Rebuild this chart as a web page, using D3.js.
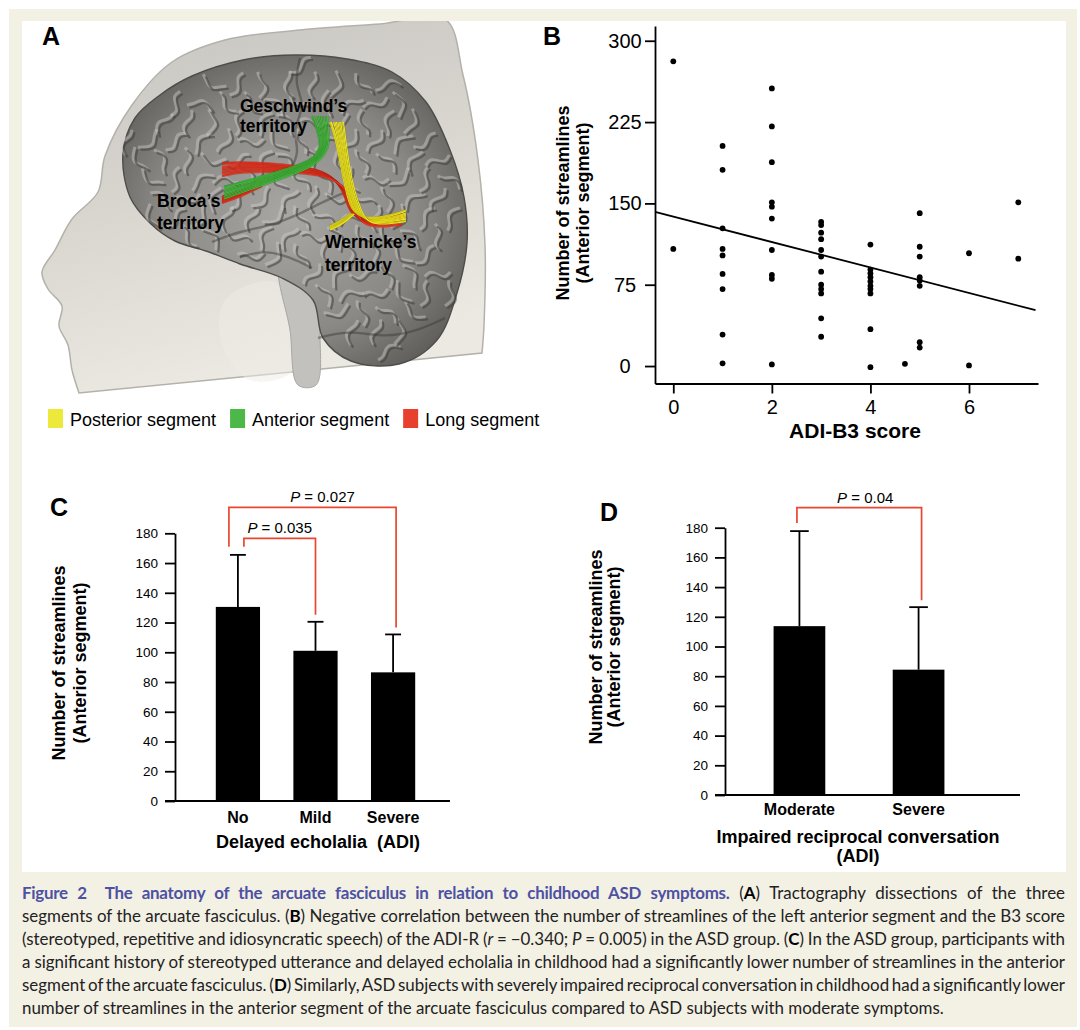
<!DOCTYPE html>
<html>
<head>
<meta charset="utf-8">
<script src="https://cdn.jsdelivr.net/npm/d3@7"></script>
<style>
  body { margin: 0; background: #fff; }
  svg text { font-family: "Liberation Sans", Arial, Helvetica, sans-serif; }
  svg text.cap { font-family: Lato, "Open Sans", sans-serif; white-space: pre; }
</style>
</head>
<body>
<div id="chart"></div>
<script>
// ---------- data ----------

// B: ADI-B3 score against streamlines, one dot per subject
var b3Score = [0, 0,
  1, 1, 1, 1, 1, 1, 1, 1, 1,
  2, 2, 2, 2, 2, 2, 2, 2, 2, 2,
  3, 3, 3, 3, 3, 3, 3, 3, 3, 3, 3, 3,
  4, 4, 4, 4, 4, 4, 4, 4, 4, 4,
  4.7,
  5, 5, 5, 5, 5, 5, 5, 5,
  6, 6,
  7, 7];
var b3Streamlines = [281, 108,
  203, 181, 127, 108, 102, 85, 71, 29, 2.5,
  256, 221, 188, 151, 147, 136, 107, 84, 80.5, 1.5,
  133, 130, 123, 117, 107, 101, 87, 75, 71, 67, 44, 27,
  112, 89, 85.5, 82, 78, 74, 71, 67, 34, -1,
  2,
  141, 110, 101, 82, 79, 74, 22, 17,
  104, 0.6,
  151, 99];
var b3FitIntercept = 137.9;
var b3FitSlope = -11.75;
var b3YTicks = [0, 75, 150, 225, 300];
var b3XTicks = [0, 2, 4, 6];

// C: delayed echolalia groups
var echoGroups = ["No", "Mild", "Severe"];
var echoMean = [130.5, 101, 86.5];
var echoErrTop = [165.5, 120.5, 112];
var echoTestPairs = [["No", "Mild"], ["No", "Severe"]];
var echoTestP = ["0.035", "0.027"];

// D: impaired reciprocal conversation groups
var convGroups = ["Moderate", "Severe"];
var convMean = [113.7, 84.4];
var convErrTop = [177.7, 126.5];
var convTestPairs = [["Moderate", "Severe"]];
var convTestP = ["0.04"];

var barTicks = [0, 20, 40, 60, 80, 100, 120, 140, 160, 180];

// A: legend of the three segments
var segNames = ["Posterior segment", "Anterior segment", "Long segment"];


// ---------- page ----------
var svg = d3.select("#chart").append("svg")
  .attr("width", 1080)
  .attr("height", 1030);

svg.append("rect").attr("x", 9).attr("y", 9).attr("width", 1068).attr("height", 1018)
  .attr("fill", "#f3f0e4");
svg.append("rect").attr("x", 22).attr("y", 21).attr("width", 1044).attr("height", 851)
  .attr("fill", "#fff");

var red = "#ea4630";

function panelLetter (txt, x, y) {
  svg.append("text").attr("x", x).attr("y", y)
    .attr("font-size", "25px").attr("font-weight", "bold")
    .text(txt);
}

// two-line rotated y title
function yTitle (cx1, cx2, cy) {
  [["Number of streamlines", cx1], ["(Anterior segment)", cx2]].forEach(function (d) {
    svg.append("text")
      .attr("transform", "translate(" + d[1] + "," + cy + ") rotate(-90)")
      .attr("text-anchor", "middle")
      .attr("dominant-baseline", "central")
      .attr("font-size", "18px").attr("font-weight", "bold")
      .text(d[0]);
  });
}

function styleAxis (g, fontSize) {
  g.selectAll("path, line").attr("stroke", "#000").attr("stroke-width", 1.8);
  g.selectAll("text").attr("fill", "#000").attr("font-size", fontSize)
    .attr("font-family", "Liberation Sans, Arial, sans-serif");
}


// ---------- A: head, brain and tracts (illustration) ----------
var defs = svg.append("defs");
defs.append("clipPath").attr("id", "clipA")
  .append("rect").attr("x", 22).attr("y", 21).attr("width", 520).attr("height", 380);

var headGrad = defs.append("linearGradient").attr("id", "headGrad")
  .attr("x1", 0).attr("y1", 0).attr("x2", 0.3).attr("y2", 1);
headGrad.append("stop").attr("offset", "0%").attr("stop-color", "#c6c4c0");
headGrad.append("stop").attr("offset", "50%").attr("stop-color", "#d8d5cf");
headGrad.append("stop").attr("offset", "100%").attr("stop-color", "#ece9e2");

var brainGrad = defs.append("radialGradient").attr("id", "brainGrad")
  .attr("cx", "48%").attr("cy", "52%").attr("r", "62%");
brainGrad.append("stop").attr("offset", "0%").attr("stop-color", "#a9a7a3");
brainGrad.append("stop").attr("offset", "60%").attr("stop-color", "#8b8985");
brainGrad.append("stop").attr("offset", "100%").attr("stop-color", "#5a5855");

var gA = svg.append("g").attr("clip-path", "url(#clipA)");

var headOutline = [[79, 393], [72, 370], [68, 345], [59, 326], [62, 306], [48, 289], [42, 272],
  [55, 250], [72, 219], [98, 192], [105, 156], [132, 105], [172, 62], [225, 40], [300, 30],
  [380, 24], [445, 19], [463, 75], [478, 160], [485, 245], [484, 325], [482, 353]];
gA.append("path")
  .attr("d", d3.line().curve(d3.curveCatmullRom)(headOutline) + "Z")
  .attr("fill", "url(#headGrad)")
  .attr("stroke", "#b4b1ab").attr("stroke-width", 1.5);

// lighter jaw area
gA.append("path")
  .attr("d", d3.line().curve(d3.curveCatmullRomClosed)([[225, 300], [275, 282], [302, 330],
    [292, 372], [250, 380], [222, 345]]))
  .attr("fill", "#eeebe5").attr("opacity", 0.5);

// brain stem
gA.append("path")
  .attr("d", d3.line().curve(d3.curveCatmullRomClosed)([[280, 268], [312, 288], [320, 340],
    [316, 385], [298, 385], [290, 330]]))
  .attr("fill", "#c3c1bd").attr("stroke", "#a9a7a3");

var brainOutline = [[123, 153], [135, 118], [160, 95], [192, 76], [243, 60], [295, 55],
  [347, 59], [392, 72], [426, 102], [450, 150], [464, 197], [467, 243], [457, 293],
  [437, 340], [399, 364], [351, 361], [323, 338], [313, 300], [282, 278], [240, 264],
  [206, 251], [175, 241], [151, 224], [130, 197]];
gA.append("path")
  .attr("d", d3.line().curve(d3.curveCatmullRomClosed)(brainOutline))
  .attr("fill", "url(#brainGrad)")
  .attr("stroke", "#4f4d4a").attr("stroke-width", 1.4);

// cortical texture: wavy folds laid on a staggered grid inside the outline
var foldLine = d3.line().curve(d3.curveBasis);
var ridges = gA.append("g"), grooves = gA.append("g");
for (var row = 0, gyy = 68; gyy < 362; gyy += 19, row++) {
  for (var gxx = 128 + (row % 2) * 12; gxx < 468; gxx += 25) {
    var ang = Math.sin(gxx * 0.11 + gyy * 0.05) * 1.7 + Math.cos(gyy * 0.09) * 0.8;
    var pts = [-1, -0.5, 0, 0.5, 1].map(function (t) {
      var w = 5 * Math.sin(t * 3.2 + gxx * 0.3);
      return [gxx + t * 13 * Math.cos(ang) - w * Math.sin(ang),
              gyy + t * 13 * Math.sin(ang) + w * Math.cos(ang)];
    });
    if (!d3.polygonContains(brainOutline, pts[0]) || !d3.polygonContains(brainOutline, pts[4])) continue;
    ridges.append("path").attr("d", foldLine(pts.map(function (p) { return [p[0] - 2.5, p[1] - 2.5]; })))
      .attr("fill", "none").attr("stroke", "#cfcdc9").attr("stroke-width", 3).attr("opacity", 0.45);
    grooves.append("path").attr("d", foldLine(pts))
      .attr("fill", "none").attr("stroke", "#403e3b").attr("stroke-width", 2.2).attr("opacity", 0.55);
  }
}

// main fissures
[[[212, 242], [240, 231], [270, 226], [300, 214], [330, 198], [352, 190]],
 [[300, 58], [294, 85], [306, 105], [292, 130], [300, 152], [290, 170]],
 [[318, 338], [350, 330], [385, 338], [420, 330], [445, 318]],
 [[240, 257], [265, 250], [290, 257], [312, 268]]].forEach(function (f) {
  gA.append("path").attr("d", foldLine(f))
    .attr("fill", "none").attr("stroke", "#3a3835").attr("stroke-width", 2.4).attr("opacity", 0.45);
});

// fibre bundles: each point is [x, y, spread in x, spread in y]
var fibreOffsets = [-5, -3.9, -3.1, -2.2, -1.1, -0.4, 0.5, 1.3, 2.4, 3.2, 4.6];
function bundle (pts, color, dark) {
  fibreOffsets.forEach(function (o, k) {
    var fan = 1 + 0.35 * ((k * 7) % 5) / 4;
    var p = pts.map(function (q, j) {
      var e = (j === 0 || j === pts.length - 1) ? fan : 1;
      return [q[0] + o * q[2] * e, q[1] + o * q[3] * e];
    });
    gA.append("path").attr("d", foldLine(p))
      .attr("fill", "none").attr("stroke", dark)
      .attr("stroke-width", 1.9).attr("opacity", 0.35);
    gA.append("path").attr("d", foldLine(p))
      .attr("fill", "none").attr("stroke", color)
      .attr("stroke-width", 1.1).attr("opacity", 0.95);
  });
}
bundle([[222, 170, 0, 1.4], [240, 167, 0, 1.1], [275, 168, 0, 0.9], [305, 170, 0, 0.7],
  [330, 175, 0.4, 0.55], [346, 190, 0.7, 0.3], [352, 207, 0.9, 0], [358, 222, 0.6, 0.6],
  [380, 223, 0, 1], [402, 219, 0, 1.3]], "#ea3520", "#7a1208");
bundle([[222, 200, 0, 0.7], [240, 194, 0, 0.7], [262, 184, 0, 0.5]], "#ea3520", "#7a1208");
bundle([[224, 193, 0, 1.3], [250, 185, 0, 1.05], [290, 172, 0, 0.85], [314, 163, 0.45, 0.6],
  [326, 148, 0.9, 0], [323, 130, 1.2, 0], [320, 116, 1.6, 0]], "#45b93d", "#145a10");
bundle([[337, 122, 1.4, 0], [341, 140, 1.05, 0], [345, 165, 0.9, 0], [350, 190, 0.9, 0],
  [356, 210, 1.05, 0], [366, 222, 0.55, 0.55], [390, 220, 0, 0.9], [406, 216, 0, 1.2]],
  "#f2ea1e", "#7a7408");
bundle([[352, 214, 0.5, 0], [343, 222, 0, 0.5], [330, 228, 0, 0.45]], "#f2ea1e", "#7a7408");

// territory labels
[["Geschwind’s", 240, 112], ["territory", 240, 132],
 ["Broca’s", 157, 207], ["territory", 157, 229],
 ["Wernicke’s", 325, 248], ["territory", 325, 271]].forEach(function (d) {
  svg.append("text").attr("x", d[1]).attr("y", d[2])
    .attr("font-size", "17.5px").attr("font-weight", "bold").text(d[0]);
});

// legend
var segColors = ["#ece93a", "#4cb848", "#e8402e"];
var lx = 48;
segNames.forEach(function (name, i) {
  svg.append("rect").attr("x", lx).attr("y", 409).attr("width", 15).attr("height", 19)
    .attr("fill", segColors[i]);
  var t = svg.append("text").attr("x", lx + 22).attr("y", 426)
    .attr("font-size", "18px").text(name);
  lx = lx + 22 + t.node().getComputedTextLength() + 14;
});

panelLetter("A", 42, 45);


// ---------- B: scatter ----------
var bx = d3.scaleLinear().domain([-0.371, 7.40]).range([655, 1038]);
var by = d3.scaleLinear().domain([-16.1, 313.6]).range([383.5, 26]);

var gBy = svg.append("g").attr("transform", "translate(655,0)")
  .call(d3.axisLeft(by).tickValues(b3YTicks).tickSize(10).tickSizeOuter(0));
styleAxis(gBy, "20px");
gBy.selectAll(".tick text").attr("text-anchor", "middle").attr("x", -30);

var gBx = svg.append("g").attr("transform", "translate(0,383.5)")
  .call(d3.axisBottom(bx).tickValues(b3XTicks).tickSize(10).tickSizeOuter(0).tickPadding(6));
styleAxis(gBx, "20px");

svg.append("g").selectAll("circle")
  .data(b3Score)
  .enter()
  .append("circle")
    .attr("cx", function (d) { return bx(d); })
    .attr("cy", function (d, i) { return by(b3Streamlines[i]); })
    .attr("r", 2.9)
    .attr("fill", "#000");

var fitX = bx.domain()[0], fitX2 = 7.35;
svg.append("line")
  .attr("x1", bx(fitX)).attr("y1", by(b3FitIntercept + b3FitSlope * fitX))
  .attr("x2", bx(fitX2)).attr("y2", by(b3FitIntercept + b3FitSlope * fitX2))
  .attr("stroke", "#000").attr("stroke-width", 1.8);

svg.append("text").attr("x", 855).attr("y", 438).attr("text-anchor", "middle")
  .attr("font-size", "21px").attr("font-weight", "bold").text("ADI-B3 score");
yTitle(563, 583, 203);
panelLetter("B", 543, 45);


// ---------- C and D: bar charts ----------
function barPanel (o) {
  var x = d3.scaleBand().domain(o.groups).range(o.xRange)
    .paddingInner(o.padIn).paddingOuter(0.5);
  var y = d3.scaleLinear().domain([0, 180]).range(o.yRange);

  var gy = svg.append("g").attr("transform", "translate(" + o.axisX + ",0)")
    .call(d3.axisLeft(y).tickValues(barTicks).tickSize(10).tickSizeOuter(0).tickPadding(o.pad));
  styleAxis(gy, "13.5px");

  svg.append("line")
    .attr("x1", o.axisX - 10).attr("x2", o.xEnd)
    .attr("y1", y(0)).attr("y2", y(0))
    .attr("stroke", "#000").attr("stroke-width", 1.8);

  var cap = x.bandwidth() * 0.36;
  o.groups.forEach(function (g, i) {
    var cx = x(g) + x.bandwidth() / 2;
    svg.append("line").attr("x1", cx).attr("x2", cx)
      .attr("y1", y(o.mean[i])).attr("y2", y(o.err[i]))
      .attr("stroke", "#000").attr("stroke-width", 1.8);
    svg.append("line").attr("x1", cx - cap / 2).attr("x2", cx + cap / 2)
      .attr("y1", y(o.err[i])).attr("y2", y(o.err[i]))
      .attr("stroke", "#000").attr("stroke-width", 1.8);
  });

  svg.append("g").selectAll("rect")
    .data(o.groups)
    .enter()
    .append("rect")
      .attr("x", function (d) { return x(d); })
      .attr("y", function (d, i) { return y(o.mean[i]); })
      .attr("width", x.bandwidth())
      .attr("height", function (d, i) { return y(0) - y(o.mean[i]); })
      .attr("fill", "#000");

  svg.append("g").selectAll("text")
    .data(o.groups)
    .enter()
    .append("text")
      .attr("x", function (d) { return x(d) + x.bandwidth() / 2; })
      .attr("y", y(0) + o.catDy)
      .attr("text-anchor", "middle")
      .attr("font-size", "16px").attr("font-weight", "bold")
      .text(function (d) { return d; });

  // significance brackets
  o.pairs.forEach(function (pr, k) {
    var a = o.groups.indexOf(pr[0]), b = o.groups.indexOf(pr[1]);
    var x1 = x(pr[0]) + x.bandwidth() / 2 + o.brk[k][0];
    var x2 = x(pr[1]) + x.bandwidth() / 2 + o.brk[k][1];
    var lev = y(180) + o.brk[k][2];
    svg.append("path")
      .attr("d", "M" + x1 + "," + (y(o.err[a]) - 8) + "V" + lev + "H" + x2 + "V" + (y(o.err[b]) - 7))
      .attr("fill", "none").attr("stroke", red).attr("stroke-width", 1.7);
    var t = svg.append("text").attr("x", (x1 + x2) / 2 + o.brk[k][3]).attr("y", lev - 5)
      .attr("text-anchor", "middle").attr("font-size", "15px");
    t.append("tspan").attr("font-style", "italic").text("P");
    t.append("tspan").text(" = " + o.p[k]);
  });
}

barPanel({
  groups: echoGroups, mean: echoMean, err: echoErrTop, pairs: echoTestPairs, p: echoTestP,
  xRange: [177, 454], padIn: 0.43, yRange: [801, 533.3], axisX: 175, pad: 7, xEnd: 450,
  catDy: 22, brk: [[6, 0, 5, 0], [-9, 3, -26, 10]]
});
svg.append("text").attr("x", 318).attr("y", 848).attr("text-anchor", "middle")
  .attr("font-size", "18px").attr("font-weight", "bold").style("white-space", "pre")
  .text("Delayed echolalia  (ADI)");
yTitle(59, 80, 663);
panelLetter("C", 50, 516);

barPanel({
  groups: convGroups, mean: convMean, err: convErrTop, pairs: convTestPairs, p: convTestP,
  xRange: [714, 1004], padIn: 0.566, yRange: [795, 527.7], axisX: 725, pad: 7, xEnd: 1020,
  catDy: 20, brk: [[-2.5, 3, -20, 6]]
});
svg.append("text").attr("x", 858).attr("y", 843).attr("text-anchor", "middle")
  .attr("font-size", "18px").attr("font-weight", "bold")
  .text("Impaired reciprocal conversation");
svg.append("text").attr("x", 858).attr("y", 862).attr("text-anchor", "middle")
  .attr("font-size", "18px").attr("font-weight", "bold")
  .text("(ADI)");
yTitle(596, 614, 647);
panelLetter("D", 600, 521);


// ---------- caption ----------
// t = title (bold, blue), b = bold, i = italic
var captionLines = [
  [["Figure 2  The anatomy of the arcuate fasciculus in relation to childhood ASD symptoms.", "t"],
   [" (", ""], ["A", "b"], [") Tractography dissections of the three", ""]],
  [["segments of the arcuate fasciculus. (", ""], ["B", "b"],
   [") Negative correlation between the number of streamlines of the left anterior segment and the B3 score", ""]],
  [["(stereotyped, repetitive and idiosyncratic speech) of the ADI-R (", ""], ["r", "i"],
   [" = \u22120.340; ", ""], ["P", "i"], [" = 0.005) in the ASD group. (", ""], ["C", "b"],
   [") In the ASD group, participants with", ""]],
  [["a significant history of stereotyped utterance and delayed echolalia in childhood had a significantly lower number of streamlines in the anterior", ""]],
  [["segment of the arcuate fasciculus. (", ""], ["D", "b"],
   [") Similarly, ASD subjects with severely impaired reciprocal conversation in childhood had a significantly lower", ""]],
  [["number of streamlines in the anterior segment of the arcuate fasciculus compared to ASD subjects with moderate symptoms.", ""]]
];

var capX = 22, capW = 1043, capLastW = 923;
function capLine (parts, y, fs) {
  var t = svg.append("text").attr("class", "cap").attr("x", capX).attr("y", y)
    .attr("font-size", fs + "px").attr("fill", "#222");
  parts.forEach(function (p) {
    var s = t.append("tspan").text(p[0]);
    if (p[1] === "t") s.attr("font-weight", "bold").attr("fill", "#4d51a3").attr("letter-spacing", -0.25);
    if (p[1] === "b") s.attr("font-weight", "bold").attr("fill", "#000");
    if (p[1] === "i") s.attr("font-style", "italic");
  });
  return t;
}

// size the font so the last (unjustified) line has the width seen in the figure
var probe = capLine(captionLines[5], -100, 15);
var capFs = 15 * capLastW / probe.node().getComputedTextLength();
probe.remove();

captionLines.forEach(function (parts, i) {
  var t = capLine(parts, 899 + i * 23, capFs);
  if (i < captionLines.length - 1) {
    var spaces = parts.map(function (p) { return p[0]; }).join("").split(" ").length - 1;
    var extra = (capW - t.node().getComputedTextLength()) / spaces;
    t.attr("word-spacing", extra);
  }
});
</script>
</body>
</html>
